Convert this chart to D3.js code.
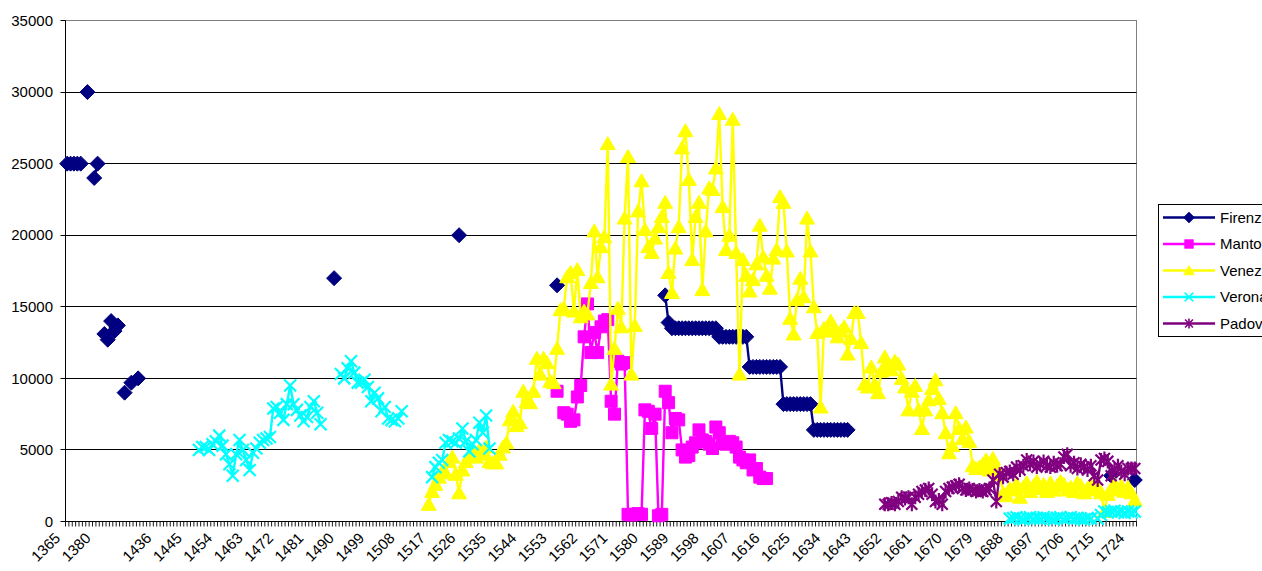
<!doctype HTML>
<html>
<head>
<meta charset="utf-8">
<script src="https://d3js.org/d3.v7.min.js"></script>
<style>
    body { margin: 0; background: #fff; }
    text { font-family: Arial, "Liberation Sans", sans-serif; fill: #000; }
</style>
</head>
<body>
<script>
    // category axis: a few sparse early years, then one category per year 1436-1725
    var earlyCategories = ["1365","1366","1367","1368","1369","1370","1372","1374","1377","1380",
        "1383","1386","1389","1392","1395","1398","1401","1404","","1410",
        "1413","1416","1419","1422","1425","1428","1432"];
    var categories = earlyCategories.concat(d3.range(1436, 1726).map(String));
    var labelEvery = 9;
    var yTicks = [0, 5000, 10000, 15000, 20000, 25000, 30000, 35000];

    // Firenze
    var firenzeEarly = [25000,25000,25000,25000,25000,null,30000,null,24000,25000,
        null,13100,12700,14000,13300,13700,null,9000,null,9700,null,10000];
    var firenzeSingles = [[1488,17000],[1525,20000],[1554,16500],[1718,3200],[1725,2900]];
    var firenzeRun = [15800,13900,
        13500,13500,13500,13500,13500,13500,13500,13500,13500,13500,13500,13500,13500,13500,
        12900,12900,12900,12900,12900,12900,12900,12900,12900,
        10800,10800,10800,10800,10800,10800,10800,10800,10800,10800,
        8200,8200,8200,8200,8200,8200,8200,8200,8200,
        6400,6400,6400,6400,6400,6400,6400,6400,6400,6400,6400]; // 1586-1640

    // Mantova 1554-1616
    var mantova = [9100,null,7600,7500,7000,7100,8700,9500,12900,15200,
        11800,13200,11800,13600,14000,14100,8400,7500,11200,11000,
        11100,500,450,500,550,500,7800,7700,6500,7500,
        400,500,9100,8300,6200,7200,7100,5000,4500,4600,
        5200,5500,6400,5700,5600,5400,5100,6600,6200,5500,
        5400,5600,5500,5200,4500,4300,4100,4300,3600,3700,
        3100,3000,3000];

    // Venezia 1516-1725
    var venezia = [1200,2100,2600,3100,3500,3400,4200,4500,3300,2000,
        3600,4200,4600,4900,4500,5000,4700,5200,4200,4100,
        4100,4700,5200,5500,7100,7700,6700,6900,9100,8400,
        8300,9100,11400,10300,11400,11100,9800,9700,12100,14800,
        14900,17100,17400,14700,17600,14300,14700,14500,16700,20300,
        17100,19200,19900,26400,9600,12100,14900,13600,21200,25500,
        10300,13700,21700,23800,20400,19200,18800,19800,20600,21300,
        22300,17400,16000,19100,20600,26100,27300,23900,18300,21300,
        22300,16200,20300,23300,23200,24700,28500,22000,19000,20000,
        28100,18800,10300,18300,17200,16100,16900,18000,20700,18500,
        17200,16300,18400,19000,22700,22300,18900,14200,13100,15500,
        17000,15700,21200,18900,15000,13200,8000,13500,13300,14000,
        13400,12900,13300,13600,11700,12800,14600,14600,12500,9600,
        9400,10800,9600,9000,10500,11500,11000,10600,11200,11000,
        10000,9400,7800,9100,9500,7800,6500,7800,8500,9300,
        9900,8600,7600,6200,4800,5300,7600,6500,5800,6600,
        5600,3900,3700,3800,4000,4300,3600,4400,3800,3300,
        2000,1800,2300,2200,2600,1700,2400,2700,2100,2500,
        2800,2300,2600,2100,2700,2200,2500,2800,2600,2200,
        2400,2100,2700,2500,2000,2300,2600,2200,2400,2000,
        700,1900,2300,2600,2200,2500,2100,2400,2000,1500];

    // Verona, four stretches
    var veronaA = [5000,5200,5200,5000,5400,5600,6000,5300,4700,4000,
        3200,4700,5700,5000,4300,3600,4800,5100,5500,5700,
        5800,5900,7900,8000,7600,7100,8200,9500,8200,7800,
        7400,7000,7300,8000,8400,7600,6800]; // 1448-1484
    var veronaB = [10300,10000,10700,11200,10400,9700,9700,9900,9400,8400,
        9000,8600,7700,8000,7200,7100,7000,7200,7700]; // 1490-1508
    var veronaC = [3100,3800,4100,4300,5500,5700,5600,5500,5800,6500,
        5600,4900,5400,5700,6900,6200,7400,5100]; // 1517-1534
    var veronaD = [200,250,300,200,150,250,300,200,250,200,
        300,250,200,150,250,300,200,250,300,200,
        250,200,150,250,200,null,200,450,700,650,
        700,750,650,700,600,700,650,700]; // 1688-1725

    // Padova 1651-1725
    var padova = [1200,1200,1300,1200,1400,1700,1600,1700,1200,1700,
        1900,2100,2200,2300,1900,1400,1500,1200,2100,2300,
        2400,2500,2600,2300,2200,2300,2200,2100,2200,2100,
        2200,2300,2900,1400,3300,3100,3400,3500,3300,3800,
        3600,3900,4300,4000,4200,3800,4000,4200,3900,3800,
        4100,3900,4000,4500,4700,3900,4100,3700,4000,3800,
        3600,3900,3200,2900,4300,4400,4200,3200,3600,3900,
        3500,3300,3700,3700,3700];

    function empty() { return categories.map(function() { return null; }); }
    function put(arr, start, values) {
        var k = categories.indexOf(String(start));
        values.forEach(function(v, j) { if (v != null) arr[k + j] = v; });
        return arr;
    }

    var firenzeAll = put(put(empty(), "1365", firenzeEarly), 1586, firenzeRun);
    firenzeSingles.forEach(function(p) { put(firenzeAll, p[0], [p[1]]); });

    var series = [
        {name: "Firenze", color: "#000080", marker: "diamond", values: firenzeAll},
        {name: "Mantova", color: "#FF00FF", marker: "square", values: put(empty(), 1554, mantova)},
        {name: "Venezia", color: "#FFFF00", marker: "triangle", values: put(empty(), 1516, venezia)},
        {name: "Verona", color: "#00FFFF", marker: "x",
            values: put(put(put(put(empty(), 1448, veronaA), 1490, veronaB), 1517, veronaC), 1688, veronaD)},
        {name: "Padova", color: "#800080", marker: "star", values: put(empty(), 1651, padova)}
    ];

    var markerPaths = {
        diamond: "M0,-7.5L7.5,0L0,7.5L-7.5,0Z",
        square: "M-6,-6H6V6H-6Z",
        triangle: "M0,-7L7.5,6L-7.5,6Z",
        x: "M-6,-6L6,6M6,-6L-6,6",
        star: "M-5.5,-5.5L5.5,5.5M5.5,-5.5L-5.5,5.5M0,-7V7"
    };
    function styleMarker(sel, s) {
        var stroked = (s.marker === "x" || s.marker === "star");
        sel.attr("d", markerPaths[s.marker])
            .attr("fill", stroked ? "none" : s.color)
            .attr("stroke", s.color)
            .attr("stroke-width", stroked ? 2.2 : 1);
    }

    var width = 1262, height = 571;
    var plot = {left: 65.5, right: 1136.5, top: 20.5, bottom: 521.5};

    var svg = d3.select("body").append("svg")
        .attr("width", width)
        .attr("height", height)
        .style("display", "block");

    svg.append("rect").attr("width", width).attr("height", height).attr("fill", "#fff");

    var xScale = d3.scaleBand().domain(d3.range(categories.length)).range([plot.left, plot.right]);
    var yScale = d3.scaleLinear().domain([0, 35000]).range([plot.bottom, plot.top]);
    var cx = function(i) { return xScale(i) + xScale.bandwidth() / 2; };
    var snap = function(v) { return Math.round(v - 0.5) + 0.5; };

    // plot area border
    svg.append("rect")
        .attr("x", plot.left).attr("y", plot.top)
        .attr("width", plot.right - plot.left).attr("height", plot.bottom - plot.top)
        .attr("fill", "#fff").attr("stroke", "#808080");

    // gridlines
    svg.append("g").selectAll("line")
        .data(yTicks.filter(function(d) { return d > 0 && d < 35000; }))
        .enter().append("line")
        .attr("x1", plot.left).attr("x2", plot.right)
        .attr("y1", function(d) { return snap(yScale(d)); })
        .attr("y2", function(d) { return snap(yScale(d)); })
        .attr("stroke", "#000");

    // y axis
    var yAxis = svg.append("g");
    yAxis.append("line").attr("x1", plot.left).attr("x2", plot.left)
        .attr("y1", plot.top).attr("y2", plot.bottom).attr("stroke", "#000");
    yAxis.selectAll(".yt").data(yTicks).enter().append("line")
        .attr("x1", plot.left - 5).attr("x2", plot.left)
        .attr("y1", function(d) { return snap(yScale(d)); })
        .attr("y2", function(d) { return snap(yScale(d)); })
        .attr("stroke", "#000");
    yAxis.selectAll("text").data(yTicks).enter().append("text")
        .attr("x", 53).attr("y", function(d) { return yScale(d); })
        .attr("dy", "0.35em").attr("text-anchor", "end")
        .attr("font-size", "15px")
        .text(function(d) { return d; });

    // x axis
    var xAxis = svg.append("g");
    xAxis.append("line").attr("x1", plot.left).attr("x2", plot.right)
        .attr("y1", plot.bottom).attr("y2", plot.bottom).attr("stroke", "#000");
    xAxis.selectAll(".xt").data(d3.range(categories.length + 1)).enter().append("line")
        .attr("x1", function(i) { return plot.left + i * xScale.bandwidth(); })
        .attr("x2", function(i) { return plot.left + i * xScale.bandwidth(); })
        .attr("y1", plot.bottom).attr("y2", plot.bottom + 5)
        .attr("stroke", "#000").attr("stroke-width", 0.9);
    xAxis.selectAll("text")
        .data(d3.range(0, categories.length, labelEvery).filter(function(i) { return categories[i] !== ""; }))
        .enter().append("text")
        .attr("transform", function(i) { return "translate(" + (cx(i) - 6) + "," + 539 + ") rotate(-45)"; })
        .attr("text-anchor", "end")
        .attr("font-size", "15px")
        .text(function(i) { return categories[i]; });

    // series
    var line = d3.line()
        .defined(function(d) { return d.v != null; })
        .x(function(d) { return cx(d.i); })
        .y(function(d) { return yScale(d.v); });

    series.forEach(function(s) {
        var pts = s.values.map(function(v, i) { return {i: i, v: v}; });
        var g = svg.append("g");
        g.append("path").datum(pts)
            .attr("d", line)
            .attr("fill", "none")
            .attr("stroke", s.color)
            .attr("stroke-width", 2.4)
            .attr("stroke-linejoin", "round");
        g.selectAll("path.m")
            .data(pts.filter(function(d) { return d.v != null; }))
            .enter().append("path")
            .attr("class", "m")
            .attr("transform", function(d) { return "translate(" + cx(d.i) + "," + yScale(d.v) + ")"; })
            .call(styleMarker, s);
    });

    // legend (runs off the right edge, as in the original)
    var legend = svg.append("g");
    legend.append("rect")
        .attr("x", 1158.5).attr("y", 204.5)
        .attr("width", 140).attr("height", 132)
        .attr("fill", "#fff").attr("stroke", "#000");
    var item = legend.selectAll(".item").data(series).enter().append("g")
        .attr("transform", function(d, k) { return "translate(0," + (217.5 + k * 26.5) + ")"; });
    item.append("line").attr("x1", 1163).attr("x2", 1215)
        .attr("stroke", function(d) { return d.color; }).attr("stroke-width", 2.4);
    item.append("path")
        .attr("transform", "translate(1189,0) scale(0.72)")
        .each(function(d) { d3.select(this).call(styleMarker, d); });
    item.append("text")
        .attr("x", 1220).attr("dy", "0.35em")
        .attr("font-size", "15px")
        .text(function(d) { return d.name; });
</script>
</body>
</html>
